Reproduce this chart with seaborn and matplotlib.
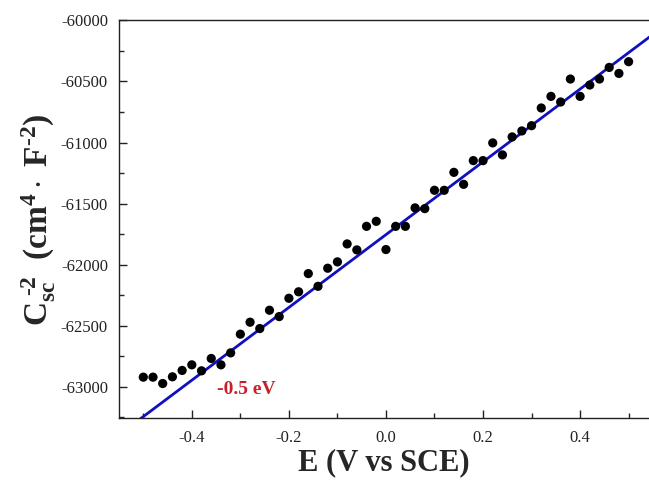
import numpy as np
import pandas as pd
import matplotlib
matplotlib.use("Agg")
import matplotlib.pyplot as plt
import seaborn as sns
from matplotlib.ticker import MultipleLocator

# ---- data ----
potential = [-0.50, -0.48, -0.46, -0.44, -0.42, -0.40, -0.38, -0.36, -0.34, -0.32,
             -0.30, -0.28, -0.26, -0.24, -0.22, -0.20, -0.18, -0.16, -0.14, -0.12,
             -0.10, -0.08, -0.06, -0.04, -0.02, 0.00, 0.02, 0.04, 0.06, 0.08,
             0.10, 0.12, 0.14, 0.16, 0.18, 0.20, 0.22, 0.24, 0.26, 0.28,
             0.30, 0.32, 0.34, 0.36, 0.38, 0.40, 0.42, 0.44, 0.46, 0.48, 0.50]
csc_inv2 = [-62921, -62921, -62973, -62918, -62866, -62820, -62869, -62768, -62820, -62722,
            -62569, -62471, -62523, -62373, -62425, -62275, -62222, -62073, -62177, -62029,
            -61977, -61830, -61879, -61686, -61645, -61876, -61686, -61686, -61535, -61541,
            -61391, -61391, -61244, -61342, -61148, -61148, -61003, -61101, -60954, -60905,
            -60862, -60717, -60622, -60668, -60480, -60622, -60529, -60480, -60385, -60434,
            -60338]
fit_slope = 2980.0       # per V
fit_intercept = -61754.0
fit_x_range = [-0.6, 0.6]
annotation_text = "-0.5 eV"
annotation_pos = (-0.288, -63025)
xticks = [-0.4, -0.2, 0.0, 0.2, 0.4]
xticklabels = ["-0.4", "-0.2", "0.0", "0.2", "0.4"]
yticks = [-63000, -62500, -62000, -61500, -61000, -60500, -60000]
yticklabels = ["-63000", "-62500", "-62000", "-61500", "-61000", "-60500", "-60000"]

df = pd.DataFrame({"E": potential, "C": csc_inv2})
fit_x = np.array(fit_x_range)
fit_df = pd.DataFrame({"E": fit_x, "C": fit_slope * fit_x + fit_intercept})

sns.set_theme(style="ticks")
plt.rcParams["font.family"] = ["Liberation Serif", "DejaVu Serif"]
plt.rcParams["mathtext.fontset"] = "custom"
plt.rcParams["mathtext.rm"] = "Liberation Serif"
plt.rcParams["mathtext.bf"] = "Liberation Serif:bold"
plt.rcParams["mathtext.it"] = "Liberation Serif:italic"

fig = plt.figure(figsize=(6.49, 4.86), dpi=100)
ax = fig.add_axes([0.1834, 0.139, 0.8166, 0.819])

sns.scatterplot(data=df, x="E", y="C", ax=ax, color="black", s=44,
                edgecolor="none", zorder=3, legend=False)
sns.lineplot(data=fit_df, x="E", y="C", ax=ax, color="#1010c0", linewidth=2.0,
             zorder=2, legend=False)

ax.set_xlim(-0.55, 0.542)
ax.set_ylim(-63259, -60000)

ax.set_xticks(xticks)
ax.set_xticklabels(xticklabels)
ax.set_yticks(yticks)
ax.set_yticklabels(yticklabels)
ax.xaxis.set_minor_locator(MultipleLocator(0.1))
ax.yaxis.set_minor_locator(MultipleLocator(250))
ax.tick_params(axis="both", which="major", direction="in", length=6, width=1.0,
               labelsize=12, colors="#222222", pad=8)
ax.tick_params(axis="both", which="minor", direction="in", length=3.5, width=1.0)
ax.tick_params(top=False, right=False, which="both")

for side in ["left", "bottom", "top"]:
    ax.spines[side].set_linewidth(1.0)
    ax.spines[side].set_color("#222222")
ax.spines["right"].set_visible(False)

ax.set_xlabel("E (V vs SCE)", fontsize=22, fontweight="bold", labelpad=2)
ax.set_ylabel(r"$\mathbf{C_{sc}^{\ \text{-}2}\ \ (cm^{4}\cdot\ F^{\text{-}2})}$",
              fontsize=24, labelpad=2)

ax.text(annotation_pos[0], annotation_pos[1], annotation_text, color="#c8202a",
        fontsize=14, fontweight="bold", ha="center", va="center")

fig.savefig("out.png", dpi=100)
